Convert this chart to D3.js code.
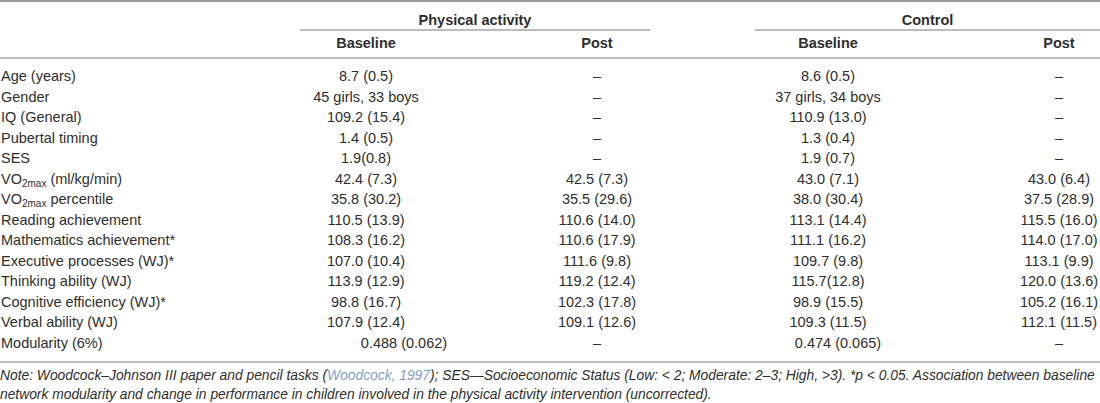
<!DOCTYPE html>
<html lang="en">
<head>
    <meta charset="UTF-8">
    <title>Participant characteristics</title>
    <script src="https://cdn.jsdelivr.net/npm/d3@7"></script>
    <style>
        body {
            margin: 0;
            background: #fff;
        }
        svg text {
            font-family: "Liberation Sans", Arial, sans-serif;
            fill: #2e2e2e;
        }
    </style>
</head>
<body>
    <div id="chart"></div>
    <script>
        // Datos de la tabla
        const rowLabels = [
            "Age (years)", "Gender", "IQ (General)", "Pubertal timing", "SES",
            "VO2max (ml/kg/min)", "VO2max percentile", "Reading achievement",
            "Mathematics achievement*", "Executive processes (WJ)*", "Thinking ability (WJ)",
            "Cognitive efficiency (WJ)*", "Verbal ability (WJ)", "Modularity (6%)"
        ];
        const groups = ["Physical activity", "Control"];
        const columns = ["Baseline", "Post", "Baseline", "Post"];

        const paBaseline = ["8.7 (0.5)", "45 girls, 33 boys", "109.2 (15.4)", "1.4 (0.5)", "1.9(0.8)",
            "42.4 (7.3)", "35.8 (30.2)", "110.5 (13.9)", "108.3 (16.2)", "107.0 (10.4)",
            "113.9 (12.9)", "98.8 (16.7)", "107.9 (12.4)", "0.488 (0.062)"];
        const paPost = ["–", "–", "–", "–", "–",
            "42.5 (7.3)", "35.5 (29.6)", "110.6 (14.0)", "110.6 (17.9)", "111.6 (9.8)",
            "119.2 (12.4)", "102.3 (17.8)", "109.1 (12.6)", "–"];
        const ctrlBaseline = ["8.6 (0.5)", "37 girls, 34 boys", "110.9 (13.0)", "1.3 (0.4)", "1.9 (0.7)",
            "43.0 (7.1)", "38.0 (30.4)", "113.1 (14.4)", "111.1 (16.2)", "109.7 (9.8)",
            "115.7(12.8)", "98.9 (15.5)", "109.3 (11.5)", "0.474 (0.065)"];
        const ctrlPost = ["–", "–", "–", "–", "–",
            "43.0 (6.4)", "37.5 (28.9)", "115.5 (16.0)", "114.0 (17.0)", "113.1 (9.9)",
            "120.0 (13.6)", "105.2 (16.1)", "112.1 (11.5)", "–"];

        const noteLines = [
            ["Note: Woodcock–Johnson III paper and pencil tasks (", "Woodcock, 1997",
             "); SES—Socioeconomic Status (Low: < 2; Moderate: 2–3; High, >3). *p < 0.05. Association between baseline"],
            ["network modularity and change in performance in children involved in the physical activity intervention (uncorrected)."]
        ];

        const width = 1100;
        const height = 403;

        const svg = d3.select("#chart")
            .append("svg")
            .attr("width", width)
            .attr("height", height);

        // Escalas: filas y columnas
        const y = d3.scalePoint()
            .domain(d3.range(rowLabels.length))
            .range([76, 343]);

        const x = d3.scalePoint()
            .domain(d3.range(columns.length))
            .range([366, 1059]);

        const groupSpan = [[300, 650], [755, 1100]];

        const rule = (x1, x2, yy, w) => svg.append("line")
            .attr("x1", x1).attr("x2", x2)
            .attr("y1", yy).attr("y2", yy)
            .attr("stroke", "#7a7a7a")
            .attr("stroke-width", w);

        rule(0, width, 1, 1.4);
        rule(0, width, 58, 1.2);
        rule(0, width, 362, 1.2);
        groupSpan.forEach(s => rule(s[0], s[1], 30, 1.2));

        // Encabezados de grupo
        svg.selectAll(".group")
            .data(groups)
            .enter()
            .append("text")
            .attr("class", "group")
            .attr("x", (d, i) => (groupSpan[i][0] + groupSpan[i][1]) / 2)
            .attr("y", 25)
            .attr("text-anchor", "middle")
            .attr("font-size", "14.5px")
            .attr("font-weight", "bold")
            .text(d => d);

        // Encabezados de columna
        svg.selectAll(".col")
            .data(columns)
            .enter()
            .append("text")
            .attr("class", "col")
            .attr("x", (d, i) => x(i))
            .attr("y", 48)
            .attr("text-anchor", "middle")
            .attr("font-size", "14.5px")
            .attr("font-weight", "bold")
            .text(d => d);

        // Etiquetas de fila (con subíndice para VO2max)
        const labels = svg.selectAll(".row")
            .data(rowLabels)
            .enter()
            .append("text")
            .attr("class", "row")
            .attr("x", 1)
            .attr("y", (d, i) => y(i) + 5)
            .attr("font-size", "14.5px");

        labels.each(function(d) {
            const t = d3.select(this);
            if (d.startsWith("VO2max")) {
                t.append("tspan").text("VO");
                t.append("tspan").attr("dy", 3).attr("font-size", "10px").text("2max");
                t.append("tspan").attr("dy", -3).text(d.slice(6));
            } else {
                t.text(d);
            }
        });

        // Celdas de datos; la fila de modularidad va algo desplazada en el original
        const series = [paBaseline, paPost, ctrlBaseline, ctrlPost];
        const lastRow = rowLabels.length - 1;
        const modNudge = [38, 0, 10, 0];
        series.forEach((vals, c) => {
            svg.selectAll(".cell" + c)
                .data(vals)
                .enter()
                .append("text")
                .attr("class", "cell" + c)
                .attr("x", (d, i) => x(c) + (i === lastRow ? modNudge[c] : 0))
                .attr("y", (d, i) => y(i) + 5)
                .attr("text-anchor", "middle")
                .attr("font-size", "14.5px")
                .text(d => d);
        });

        // Nota al pie (cursiva), ajustada al ancho
        const notes = svg.selectAll(".note")
            .data(noteLines)
            .enter()
            .append("text")
            .attr("class", "note")
            .attr("x", 0)
            .attr("y", (d, i) => 380 + i * 18.5)
            .attr("font-style", "italic")
            .attr("font-size", "13px");

        notes.each(function(parts) {
            const t = d3.select(this);
            parts.forEach((p, k) => {
                const s = t.append("tspan").text(p);
                if (parts.length > 1 && k === 1) s.style("fill", "#7f9fc9");
            });
        });

        const first = notes.node();
        const w = first.getComputedTextLength();
        const fs = 13 * 1096 / w;
        notes.attr("font-size", fs + "px");
    </script>
</body>
</html>
